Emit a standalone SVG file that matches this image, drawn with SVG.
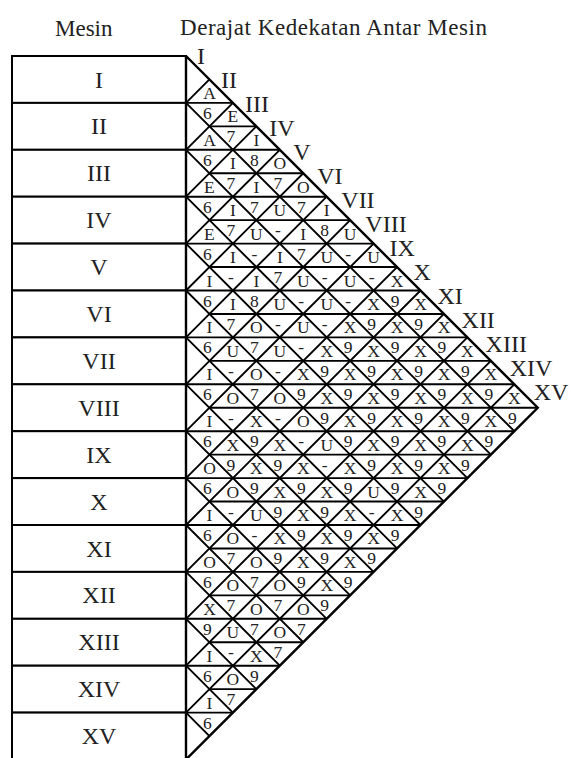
<svg xmlns="http://www.w3.org/2000/svg" width="573" height="758" viewBox="0 0 573 758">
<style>
text{font-family:"Liberation Serif","Times New Roman",serif;fill:#222}
.hd{font-size:23px}
.row rect{fill:#fff;stroke:#000;stroke-width:2}
.row text{font-size:24px;text-anchor:middle}
.hl text{font-size:24px}
.cell text{font-size:17.5px;text-anchor:middle}
.grid{fill:none;stroke:#000;stroke-width:1.9}
.outline{fill:none;stroke:#000;stroke-width:2.4;stroke-linejoin:miter}
</style>
<rect width="573" height="758" fill="#fff"/>
<text class="hd" x="55" y="36">Mesin</text>
<text class="hd" x="180" y="35" textLength="307" lengthAdjust="spacing">Derajat Kedekatan Antar Mesin</text>

<g id="machines">
<g id="m1" class="row"><rect x="12" y="56" width="174" height="46.9"/><text x="99" y="87.5">I</text></g>
<g id="m2" class="row"><rect x="12" y="102.9" width="174" height="46.9"/><text x="99" y="134.4">II</text></g>
<g id="m3" class="row"><rect x="12" y="149.8" width="174" height="46.9"/><text x="99" y="181.3">III</text></g>
<g id="m4" class="row"><rect x="12" y="196.7" width="174" height="46.9"/><text x="99" y="228.2">IV</text></g>
<g id="m5" class="row"><rect x="12" y="243.6" width="174" height="46.9"/><text x="99" y="275.1">V</text></g>
<g id="m6" class="row"><rect x="12" y="290.5" width="174" height="46.9"/><text x="99" y="322">VI</text></g>
<g id="m7" class="row"><rect x="12" y="337.4" width="174" height="46.9"/><text x="99" y="368.9">VII</text></g>
<g id="m8" class="row"><rect x="12" y="384.3" width="174" height="46.9"/><text x="99" y="415.8">VIII</text></g>
<g id="m9" class="row"><rect x="12" y="431.2" width="174" height="46.9"/><text x="99" y="462.7">IX</text></g>
<g id="m10" class="row"><rect x="12" y="478.1" width="174" height="46.9"/><text x="99" y="509.6">X</text></g>
<g id="m11" class="row"><rect x="12" y="525" width="174" height="46.9"/><text x="99" y="556.5">XI</text></g>
<g id="m12" class="row"><rect x="12" y="571.9" width="174" height="46.9"/><text x="99" y="603.4">XII</text></g>
<g id="m13" class="row"><rect x="12" y="618.8" width="174" height="46.9"/><text x="99" y="650.3">XIII</text></g>
<g id="m14" class="row"><rect x="12" y="665.7" width="174" height="46.9"/><text x="99" y="697.2">XIV</text></g>
<g id="m15" class="row"><rect x="12" y="712.6" width="174" height="46.9"/><text x="99" y="744.1">XV</text></g>
</g>

<g id="connectors">
<path class="grid" d="M186 102.9L209.45 79.45M186 149.8L232.9 102.9M186 196.7L256.35 126.35M186 243.6L279.8 149.8M186 290.5L303.25 173.25M186 337.4L326.7 196.7M186 384.3L350.15 220.15M186 431.2L373.6 243.6M186 478.1L397.05 267.05M186 525L420.5 290.5M186 571.9L443.95 313.95M186 618.8L467.4 337.4M186 665.7L490.85 360.85M186 712.6L514.3 384.3"/>
<path class="grid" d="M186 102.9L514.3 431.2M186 149.8L490.85 454.65M186 196.7L467.4 478.1M186 243.6L443.95 501.55M186 290.5L420.5 525M186 337.4L397.05 548.45M186 384.3L373.6 571.9M186 431.2L350.15 595.35M186 478.1L326.7 618.8M186 525L303.25 642.25M186 571.9L279.8 665.7M186 618.8L256.35 689.15M186 665.7L232.9 712.6M186 712.6L209.45 736.05"/>
<path class="grid" d="M186 102.9H232.9M209.45 126.35H256.35M186 149.8H279.8M209.45 173.25H303.25M186 196.7H326.7M209.45 220.15H350.15M186 243.6H373.6M209.45 267.05H397.05M186 290.5H420.5M209.45 313.95H443.95M186 337.4H467.4M209.45 360.85H490.85M186 384.3H514.3M209.45 407.75H537.75M186 431.2H514.3M209.45 454.65H490.85M186 478.1H467.4M209.45 501.55H443.95M186 525H420.5M209.45 548.45H397.05M186 571.9H373.6M209.45 595.35H350.15M186 618.8H326.7M209.45 642.25H303.25M186 665.7H279.8M209.45 689.15H256.35M186 712.6H232.9"/>
<path class="outline" d="M186 56L537.75 407.75L186 759.5V56"/>
</g>

<g id="labels" class="hl">
<text x="197" y="63.5">I</text>
<text x="221.05" y="87.55">II</text>
<text x="245.1" y="111.6">III</text>
<text x="269.15" y="135.65">IV</text>
<text x="293.2" y="159.7">V</text>
<text x="317.25" y="183.75">VI</text>
<text x="341.3" y="207.8">VII</text>
<text x="365.35" y="231.85">VIII</text>
<text x="389.4" y="255.9">IX</text>
<text x="413.45" y="279.95">X</text>
<text x="437.5" y="304">XI</text>
<text x="461.55" y="328.05">XII</text>
<text x="485.6" y="352.1">XIII</text>
<text x="509.65" y="376.15">XIV</text>
<text x="533.7" y="400.2">XV</text>
</g>

<g id="cells" class="cell">
<g transform="translate(0,98.9)"><text x="209.45">A</text><text x="207.45" y="20">6</text></g>
<g transform="translate(0,122.35)"><text x="232.9">E</text><text x="230.9" y="20">7</text></g>
<g transform="translate(0,145.8)"><text x="209.45">A</text><text x="207.45" y="20">6</text><text x="256.35">I</text><text x="254.35" y="20">8</text></g>
<g transform="translate(0,169.25)"><text x="232.9">I</text><text x="230.9" y="20">7</text><text x="279.8">O</text><text x="277.8" y="20">7</text></g>
<g transform="translate(0,192.7)"><text x="209.45">E</text><text x="207.45" y="20">6</text><text x="256.35">I</text><text x="254.35" y="20">7</text><text x="303.25">O</text><text x="301.25" y="20">7</text></g>
<g transform="translate(0,216.15)"><text x="232.9">I</text><text x="230.9" y="20">7</text><text x="279.8">U</text><text x="277.8" y="20">-</text><text x="326.7">I</text><text x="324.7" y="20">8</text></g>
<g transform="translate(0,239.6)"><text x="209.45">E</text><text x="207.45" y="20">6</text><text x="256.35">U</text><text x="254.35" y="20">-</text><text x="303.25">I</text><text x="301.25" y="20">7</text><text x="350.15">U</text><text x="348.15" y="20">-</text></g>
<g transform="translate(0,263.05)"><text x="232.9">I</text><text x="230.9" y="20">-</text><text x="279.8">I</text><text x="277.8" y="20">7</text><text x="326.7">U</text><text x="324.7" y="20">-</text><text x="373.6">U</text><text x="371.6" y="20">-</text></g>
<g transform="translate(0,286.5)"><text x="209.45">I</text><text x="207.45" y="20">6</text><text x="256.35">I</text><text x="254.35" y="20">8</text><text x="303.25">U</text><text x="301.25" y="20">-</text><text x="350.15">U</text><text x="348.15" y="20">-</text><text x="397.05">X</text><text x="395.05" y="20">9</text></g>
<g transform="translate(0,309.95)"><text x="232.9">I</text><text x="230.9" y="20">7</text><text x="279.8">U</text><text x="277.8" y="20">-</text><text x="326.7">U</text><text x="324.7" y="20">-</text><text x="373.6">X</text><text x="371.6" y="20">9</text><text x="420.5">X</text><text x="418.5" y="20">9</text></g>
<g transform="translate(0,333.4)"><text x="209.45">I</text><text x="207.45" y="20">6</text><text x="256.35">O</text><text x="254.35" y="20">7</text><text x="303.25">U</text><text x="301.25" y="20">-</text><text x="350.15">X</text><text x="348.15" y="20">9</text><text x="397.05">X</text><text x="395.05" y="20">9</text><text x="443.95">X</text><text x="441.95" y="20">9</text></g>
<g transform="translate(0,356.85)"><text x="232.9">U</text><text x="230.9" y="20">-</text><text x="279.8">U</text><text x="277.8" y="20">-</text><text x="326.7">X</text><text x="324.7" y="20">9</text><text x="373.6">X</text><text x="371.6" y="20">9</text><text x="420.5">X</text><text x="418.5" y="20">9</text><text x="467.4">X</text><text x="465.4" y="20">9</text></g>
<g transform="translate(0,380.3)"><text x="209.45">I</text><text x="207.45" y="20">6</text><text x="256.35">O</text><text x="254.35" y="20">7</text><text x="303.25">X</text><text x="301.25" y="20">9</text><text x="350.15">X</text><text x="348.15" y="20">9</text><text x="397.05">X</text><text x="395.05" y="20">9</text><text x="443.95">X</text><text x="441.95" y="20">9</text><text x="490.85">X</text><text x="488.85" y="20">9</text></g>
<g transform="translate(0,403.75)"><text x="232.9">O</text><text x="230.9" y="20">-</text><text x="279.8">O</text><text x="277.8" y="20">-</text><text x="326.7">X</text><text x="324.7" y="20">9</text><text x="373.6">X</text><text x="371.6" y="20">9</text><text x="420.5">X</text><text x="418.5" y="20">9</text><text x="467.4">X</text><text x="465.4" y="20">9</text><text x="514.3">X</text><text x="512.3" y="20">9</text></g>
<g transform="translate(0,427.2)"><text x="209.45">I</text><text x="207.45" y="20">6</text><text x="256.35">X</text><text x="254.35" y="20">9</text><text x="303.25">O</text><text x="301.25" y="20">-</text><text x="350.15">X</text><text x="348.15" y="20">9</text><text x="397.05">X</text><text x="395.05" y="20">9</text><text x="443.95">X</text><text x="441.95" y="20">9</text><text x="490.85">X</text><text x="488.85" y="20">9</text></g>
<g transform="translate(0,450.65)"><text x="232.9">X</text><text x="230.9" y="20">9</text><text x="279.8">X</text><text x="277.8" y="20">9</text><text x="326.7">U</text><text x="324.7" y="20">-</text><text x="373.6">X</text><text x="371.6" y="20">9</text><text x="420.5">X</text><text x="418.5" y="20">9</text><text x="467.4">X</text><text x="465.4" y="20">9</text></g>
<g transform="translate(0,474.1)"><text x="209.45">O</text><text x="207.45" y="20">6</text><text x="256.35">X</text><text x="254.35" y="20">9</text><text x="303.25">X</text><text x="301.25" y="20">9</text><text x="350.15">X</text><text x="348.15" y="20">9</text><text x="397.05">X</text><text x="395.05" y="20">9</text><text x="443.95">X</text><text x="441.95" y="20">9</text></g>
<g transform="translate(0,497.55)"><text x="232.9">O</text><text x="230.9" y="20">-</text><text x="279.8">X</text><text x="277.8" y="20">9</text><text x="326.7">X</text><text x="324.7" y="20">9</text><text x="373.6">U</text><text x="371.6" y="20">-</text><text x="420.5">X</text><text x="418.5" y="20">9</text></g>
<g transform="translate(0,521)"><text x="209.45">I</text><text x="207.45" y="20">6</text><text x="256.35">U</text><text x="254.35" y="20">-</text><text x="303.25">X</text><text x="301.25" y="20">9</text><text x="350.15">X</text><text x="348.15" y="20">9</text><text x="397.05">X</text><text x="395.05" y="20">9</text></g>
<g transform="translate(0,544.45)"><text x="232.9">O</text><text x="230.9" y="20">7</text><text x="279.8">X</text><text x="277.8" y="20">9</text><text x="326.7">X</text><text x="324.7" y="20">9</text><text x="373.6">X</text><text x="371.6" y="20">9</text></g>
<g transform="translate(0,567.9)"><text x="209.45">O</text><text x="207.45" y="20">6</text><text x="256.35">O</text><text x="254.35" y="20">7</text><text x="303.25">X</text><text x="301.25" y="20">9</text><text x="350.15">X</text><text x="348.15" y="20">9</text></g>
<g transform="translate(0,591.35)"><text x="232.9">O</text><text x="230.9" y="20">7</text><text x="279.8">O</text><text x="277.8" y="20">7</text><text x="326.7">X</text><text x="324.7" y="20">9</text></g>
<g transform="translate(0,614.8)"><text x="209.45">X</text><text x="207.45" y="20">9</text><text x="256.35">O</text><text x="254.35" y="20">7</text><text x="303.25">O</text><text x="301.25" y="20">7</text></g>
<g transform="translate(0,638.25)"><text x="232.9">U</text><text x="230.9" y="20">-</text><text x="279.8">O</text><text x="277.8" y="20">7</text></g>
<g transform="translate(0,661.7)"><text x="209.45">I</text><text x="207.45" y="20">6</text><text x="256.35">X</text><text x="254.35" y="20">9</text></g>
<g transform="translate(0,685.15)"><text x="232.9">O</text><text x="230.9" y="20">7</text></g>
<g transform="translate(0,708.6)"><text x="209.45">I</text><text x="207.45" y="20">6</text></g>
</g>
</svg>
